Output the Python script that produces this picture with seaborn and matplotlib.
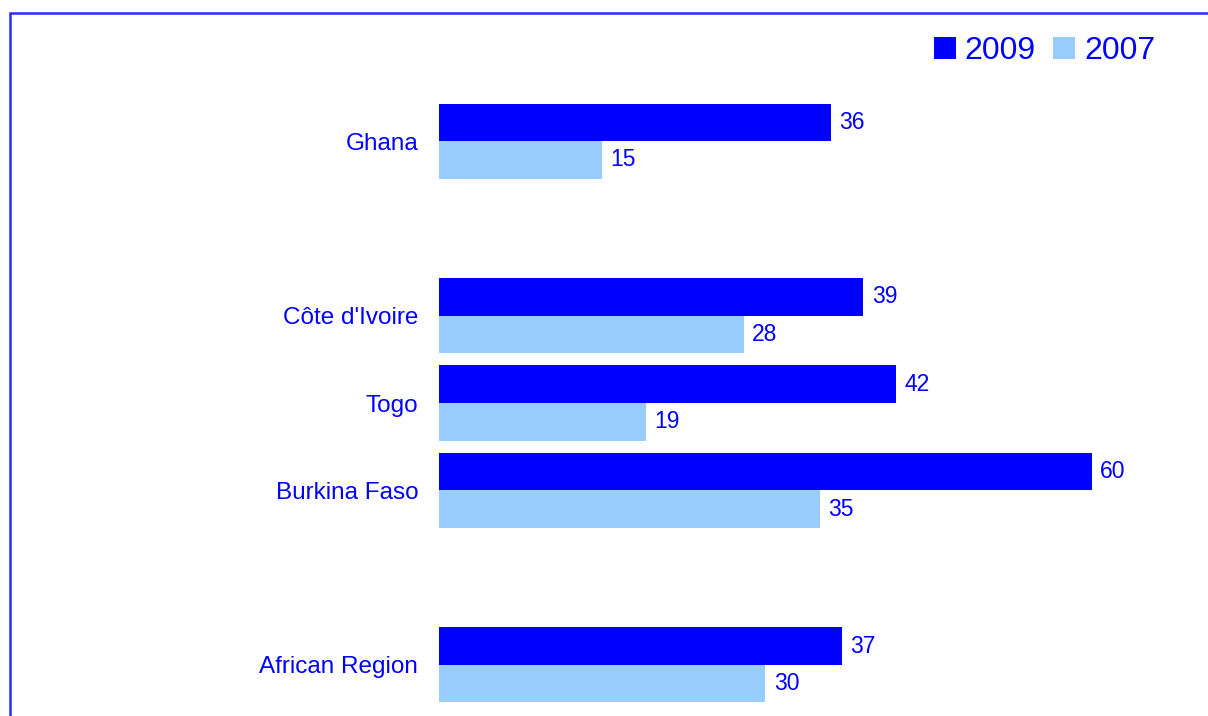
import numpy as np
import pandas as pd
import seaborn as sns
import matplotlib.pyplot as plt
from matplotlib.patches import Rectangle

# data
regions = ["Ghana", "Côte d'Ivoire", "Togo", "Burkina Faso", "African Region"]
values_2009 = [36, 39, 42, 60, 37]
values_2007 = [15, 28, 19, 35, 30]
years = ["2009", "2007"]
# empty slots keep the gaps between the groups
order = ["Ghana", " ", "Côte d'Ivoire", "Togo", "Burkina Faso", "  ", "African Region"]

dark_blue = "#0000FF"
light_blue = "#99CCFF"
text_blue = "#0000FF"

df = pd.DataFrame({
    "region": regions * 2,
    "value": values_2009 + values_2007,
    "year": ["2009"] * len(regions) + ["2007"] * len(regions),
})

sns.set_style("white")
plt.rcParams["font.family"] = ["Liberation Sans", "DejaVu Sans"]

fig = plt.figure(figsize=(12.08, 7.16), dpi=100)
ax = fig.add_axes([439 / 1208, 1 - 708.5 / 716, (1160 - 439) / 1208, (708.5 - 97.5) / 716])

sns.barplot(data=df, y="region", x="value", hue="year", order=order, hue_order=years,
            palette=[dark_blue, light_blue], orient="h", width=0.86, saturation=1,
            linewidth=0, ax=ax)

for cont in ax.containers:
    ax.bar_label(cont, fmt="%g", padding=6, fontsize=16.5, color=text_blue)

ax.set_xlim(0, (1160 - 439) / 10.88)
ax.set_ylim(6.5, -0.5)
ax.set_ylabel("")
ax.xaxis.set_visible(False)
ax.tick_params(axis="y", length=0, pad=15, labelsize=17.5, labelcolor=text_blue)
sns.despine(ax=ax, left=True, bottom=True)

handles, labels = ax.get_legend_handles_labels()
ax.legend_.remove()
fig.legend(handles, labels, loc="center right", bbox_to_anchor=(1155 / 1208, 1 - 51 / 716),
           ncol=2, frameon=False, fontsize=23, labelcolor=text_blue,
           handlelength=0.68, handleheight=0.68, handletextpad=0.28, columnspacing=0.55,
           borderaxespad=0, borderpad=0)

fig.patches.append(Rectangle((10 / 1208, -0.1), 2, 1 - 13 / 716 + 0.1, transform=fig.transFigure,
                             fill=False, edgecolor="#2a2aff", linewidth=1.8))

fig.savefig("out.png", dpi=100)
